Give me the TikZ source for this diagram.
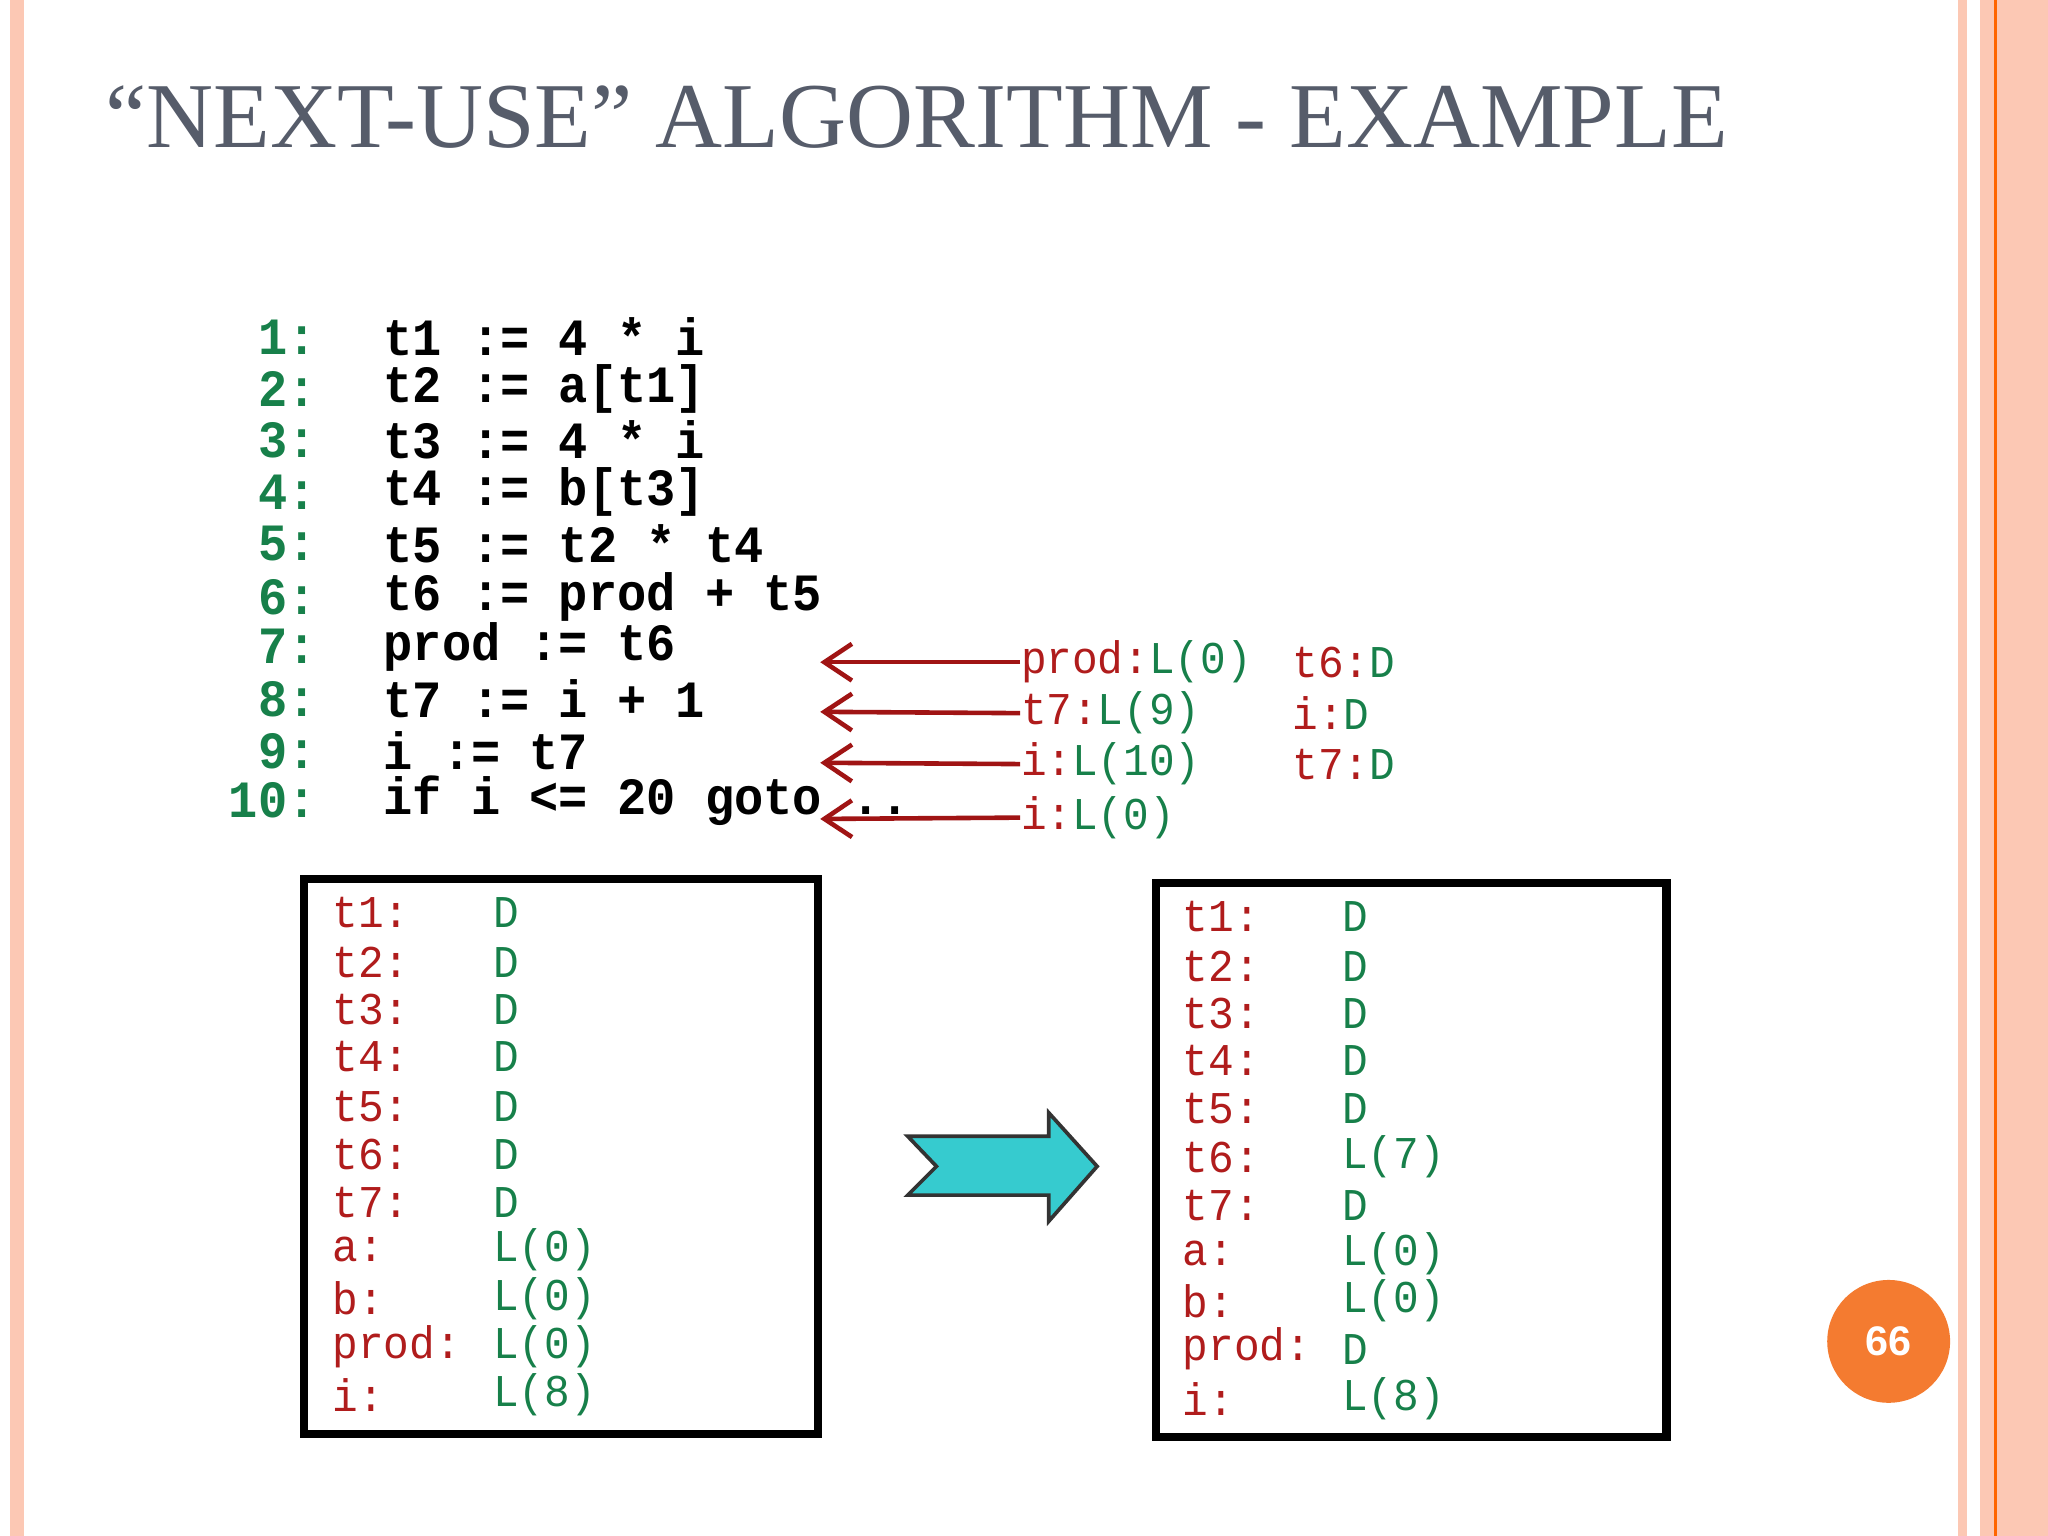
\documentclass[tikz,border=0pt]{standalone}
\usepackage{fontspec}
\setmainfont{Liberation Serif}
\newfontfamily\cmono[FakeStretch=0.93]{Liberation Mono}
\newfontfamily\vmono[FakeStretch=0.94]{Liberation Mono}
\newfontfamily\csans{Liberation Sans}
\usetikzlibrary{arrows.meta}
\definecolor{peach}{HTML}{FCC8B4}
\definecolor{dred}{HTML}{B01C1C}
\definecolor{dgreen}{HTML}{17804A}
\definecolor{ttl}{HTML}{565C6A}
\definecolor{arrc}{HTML}{A01414}
\definecolor{teal1}{HTML}{36CBCF}
\definecolor{pgc}{HTML}{F47B30}
\begin{document}
\begin{tikzpicture}[x=0.01cm,y=-0.01cm,
  code/.style={font=\cmono\bfseries\fontsize{11.4}{13}\selectfont,anchor=west,inner sep=0pt},
  num/.style={font=\cmono\bfseries\fontsize{11.4}{13}\selectfont,text=dgreen,anchor=east,inner sep=0pt},
  vt/.style={font=\vmono\fontsize{9.9}{12}\selectfont,anchor=west,inner sep=0pt},
  rd/.style={vt,text=dred},
  gr/.style={vt,text=dgreen},
  back/.style={draw=arrc,line width=1pt,-{Straight Barb[length=6pt,width=8pt,line width=1pt]}},
  tbox/.style={draw=black,line width=1.8pt}]
\useasboundingbox (0,0) rectangle (1568,1176);
\fill[white] (0,0) rectangle (1568,1176);
\fill[peach] (8,0) rectangle (18,1176);
\fill[peach] (1499,0) rectangle (1506,1176);
\fill[peach] (1516,0) rectangle (1568,1176);
\draw[orange!80!red,line width=0.6pt] (1528,0) -- (1528,1176);
\node[anchor=west,inner sep=0pt,text=ttl,font=\fontsize{20.2}{24}\selectfont] (title) at (80,90) {“NEXT-USE” ALGORITHM - EXAMPLE};
% code
\foreach \n/\y/\t in {1/258/{t1 := 4 * i},2/298/{t2 := a[t1]},3/337/{t3 := 4 * i},4/377/{t4 := b[t3]},5/416/{t5 := t2 * t4},6/457/{t6 := prod + t5},7/495/{prod := t6},8/535/{t7 := i + 1},9/575/{i := t7},10/613/{if i <= 20 goto ..}}{
  \node[num] (n\n) at (243,\y) {\n:};
  \node[code] (c\n) at (293,\y) {\t};
}
% annotations
\node[vt] (a1) at (781,507) {\textcolor{dred}{prod:}\textcolor{dgreen}{L(0)}};
\node[vt] (a2) at (781,546) {\textcolor{dred}{t7:}\textcolor{dgreen}{L(9)}};
\node[vt] (a3) at (781,585) {\textcolor{dred}{i:}\textcolor{dgreen}{L(10)}};
\node[vt] (a4) at (781,626) {\textcolor{dred}{i:}\textcolor{dgreen}{L(0)}};
\node[vt] (b1) at (989,507) {\textcolor{dred}{t6:}\textcolor{dgreen}{D}};
\node[vt] (b2) at (989,546) {\textcolor{dred}{i:}\textcolor{dgreen}{D}};
\node[vt] (b3) at (989,585) {\textcolor{dred}{t7:}\textcolor{dgreen}{D}};
\foreach \i/\y in {1/507,2/545,3/584,4/627}{
  \coordinate (e\i) at (628,\y);
  \draw[back] (a\i.west) -- (e\i);
}
% boxes
\draw[tbox] (233,673) rectangle (626,1098);
\draw[tbox] (885,676) rectangle (1276,1100);
\foreach \k/\nm/\v/\y in {1/t1:/D/699,2/t2:/D/737,3/t3:/D/773,4/t4:/D/809,5/t5:/D/847,6/t6:/D/884,7/t7:/D/921,8/a:/L(0)/957,9/b:/L(0)/994,10/prod:/L(0)/1031,11/i:/L(8)/1068}{
  \node[rd] (ln\k) at (254,\y) {\nm};
  \node[gr] (lv\k) at (377,\y) {\v};
}
\foreach \k/\nm/\v/\y in {1/t1:/D/702,2/t2:/D/740,3/t3:/D/776,4/t4:/D/812,5/t5:/D/849,6/t6:/L(7)/886,7/t7:/D/923,8/a:/L(0)/960,9/b:/L(0)/996,10/prod:/D/1033,11/i:/L(8)/1071}{
  \node[rd] (rn\k) at (905,\y) {\nm};
  \node[gr] (rv\k) at (1027,\y) {\v};
}
% big arrow
\draw[fill=teal1,draw=black!80,line width=0.8pt] (695,870) -- (803,870) -- (803,852) -- (840,893) -- (803,935) -- (803,915) -- (695,915) -- (717,893) -- cycle;
% page number
\node[circle,fill=pgc,minimum size=0.94cm,inner sep=0pt,text=white,font=\csans\bfseries\fontsize{9}{11}\selectfont] (pg) at (1446,1027) {66};
\end{tikzpicture}
\end{document}
